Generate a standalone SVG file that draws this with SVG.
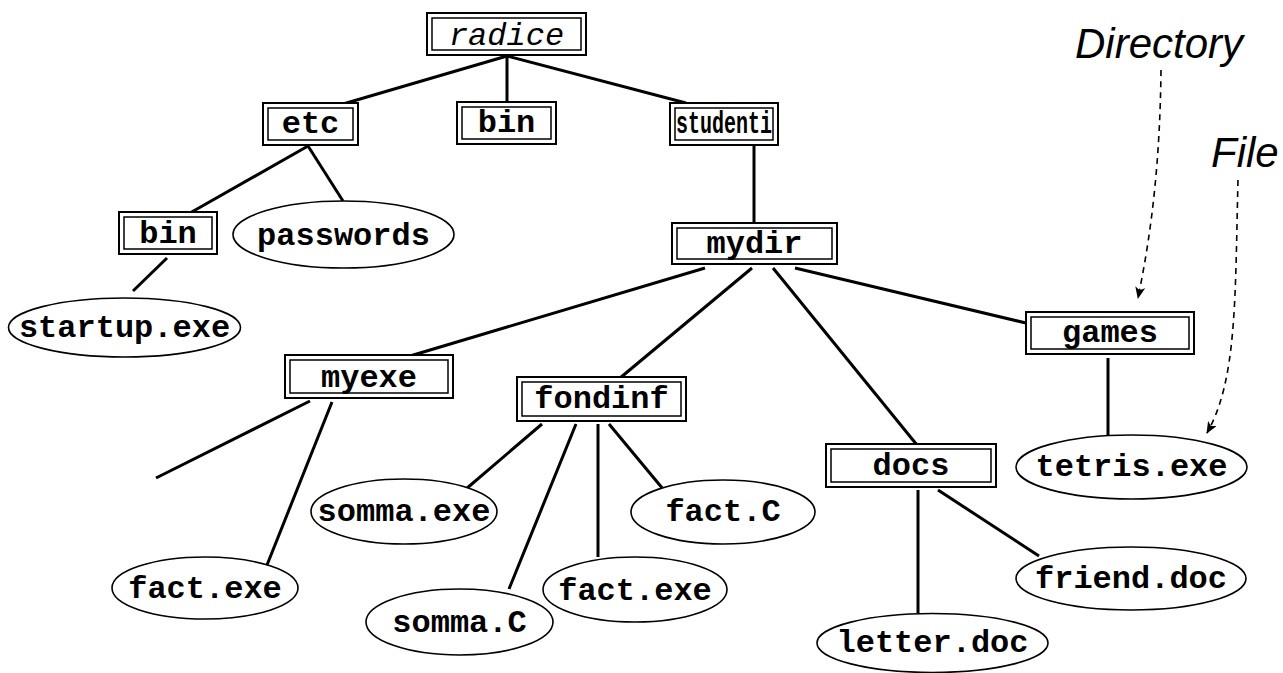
<svg xmlns="http://www.w3.org/2000/svg" width="1283" height="673" viewBox="0 0 1283 673">
<defs>
<style>
.o{fill:#fff;stroke:#000;stroke-width:2}
.i{fill:none;stroke:#000;stroke-width:1.5}
.e{fill:#fff;stroke:#000;stroke-width:1.6}
.t{font-family:"Liberation Mono","DejaVu Sans Mono",monospace;font-weight:bold;font-size:32px;text-anchor:middle;fill:#000}
.ti{font-family:"Liberation Mono","DejaVu Sans Mono",monospace;font-style:italic;font-size:32px;text-anchor:middle;fill:#000}
.lab{font-family:"Liberation Sans",Arial,sans-serif;font-style:italic;font-size:42px;fill:#000}
.c line{stroke:#000;stroke-width:3;stroke-linecap:butt}
.d{fill:none;stroke:#000;stroke-width:1.6;stroke-dasharray:6 5}
</style>
<marker id="ah" viewBox="0 0 12 10" refX="11" refY="5" markerWidth="12" markerHeight="10" markerUnits="userSpaceOnUse" orient="auto">
<path d="M0,0 L12,5 L0,10 L3,5 Z" fill="#000"/>
</marker>
</defs>
<rect width="1283" height="673" fill="#fff"/>
<g class="c" id="connectors">
<line x1="507" y1="56" x2="343" y2="104"/>
<line x1="507" y1="56" x2="507" y2="102"/>
<line x1="507" y1="56" x2="686" y2="103"/>
<line x1="308" y1="146" x2="190" y2="213"/>
<line x1="308" y1="146" x2="343" y2="201"/>
<line x1="167" y1="258" x2="133" y2="291"/>
<line x1="754" y1="146" x2="754" y2="223"/>
<line x1="705" y1="268" x2="410" y2="356"/>
<line x1="752" y1="268" x2="620" y2="378"/>
<line x1="773" y1="268" x2="917" y2="445"/>
<line x1="795" y1="268" x2="1026" y2="323"/>
<line x1="310" y1="401" x2="156" y2="478"/>
<line x1="332" y1="402" x2="267" y2="565"/>
<line x1="542" y1="424" x2="466" y2="489"/>
<line x1="576" y1="424" x2="509" y2="589"/>
<line x1="598" y1="424" x2="598" y2="557"/>
<line x1="609" y1="424" x2="663" y2="489"/>
<line x1="1108" y1="358" x2="1108" y2="435"/>
<line x1="918" y1="490" x2="918" y2="613"/>
<line x1="938" y1="490" x2="1039" y2="556"/>
</g>
<g id="legend-arrows">
<path class="d" d="M1161,70 C1160,160 1152,230 1138,298" marker-end="url(#ah)"/>
<path class="d" d="M1238,180 C1235,300 1237,380 1207,433" marker-end="url(#ah)"/>
</g>
<g id="radice"><rect class="o" x="427" y="13" width="159" height="42"/><rect class="i" x="432" y="18" width="149" height="32"/><text class="ti" x="506.5" y="45">radice</text></g>
<g id="etc"><rect class="o" x="263" y="103" width="95" height="42"/><rect class="i" x="268" y="108" width="85" height="32"/><text class="t" x="310.5" y="133">etc</text></g>
<g id="bin-top"><rect class="o" x="457" y="102" width="99" height="42"/><rect class="i" x="462" y="107" width="89" height="32"/><text class="t" x="506.5" y="132">bin</text></g>
<g id="studenti"><rect class="o" x="670" y="103" width="108" height="42"/><rect class="i" x="675" y="108" width="98" height="32"/><text class="t" x="724" y="133" textLength="96" lengthAdjust="spacingAndGlyphs">studenti</text></g>
<g id="mydir"><rect class="o" x="672" y="223" width="165" height="41"/><rect class="i" x="677" y="228" width="155" height="31"/><text class="t" x="754.5" y="253">mydir</text></g>
<g id="bin-etc"><rect class="o" x="119" y="212" width="98" height="42"/><rect class="i" x="124" y="217" width="88" height="32"/><text class="t" x="168" y="243">bin</text></g>
<g id="myexe"><rect class="o" x="285" y="355" width="168" height="43"/><rect class="i" x="290" y="360" width="158" height="33"/><text class="t" x="369" y="387">myexe</text></g>
<g id="fondinf"><rect class="o" x="517" y="377" width="169" height="44"/><rect class="i" x="522" y="382" width="159" height="34"/><text class="t" x="601.5" y="408">fondinf</text></g>
<g id="games"><rect class="o" x="1026" y="312" width="168" height="42"/><rect class="i" x="1031" y="317" width="158" height="32"/><text class="t" x="1110" y="342">games</text></g>
<g id="docs"><rect class="o" x="826" y="444" width="170" height="43"/><rect class="i" x="831" y="449" width="160" height="33"/><text class="t" x="911" y="475">docs</text></g>
<g id="passwords"><ellipse class="e" cx="343.5" cy="234.5" rx="110.5" ry="33.5"/><text class="t" x="343.5" y="245">passwords</text></g>
<g id="startup-exe"><ellipse class="e" cx="124.5" cy="327.5" rx="116" ry="29.5"/><text class="t" x="124.5" y="337">startup.exe</text></g>
<g id="fact-exe-1"><ellipse class="e" cx="205" cy="588" rx="93" ry="31"/><text class="t" x="205" y="598">fact.exe</text></g>
<g id="somma-exe"><ellipse class="e" cx="404" cy="511.5" rx="93" ry="32.5"/><text class="t" x="404" y="521">somma.exe</text></g>
<g id="somma-c"><ellipse class="e" cx="459.5" cy="622" rx="93.5" ry="33"/><text class="t" x="459.5" y="632">somma.C</text></g>
<g id="fact-exe-2"><ellipse class="e" cx="635" cy="589.5" rx="92" ry="32.5"/><text class="t" x="635" y="600">fact.exe</text></g>
<g id="fact-c"><ellipse class="e" cx="723" cy="512" rx="92" ry="32"/><text class="t" x="723" y="521">fact.C</text></g>
<g id="tetris-exe"><ellipse class="e" cx="1131.5" cy="467" rx="115.5" ry="32"/><text class="t" x="1131.5" y="476">tetris.exe</text></g>
<g id="friend-doc"><ellipse class="e" cx="1131" cy="578.5" rx="115" ry="31.5"/><text class="t" x="1131" y="588">friend.doc</text></g>
<g id="letter-doc"><ellipse class="e" cx="932.5" cy="643" rx="115.5" ry="29.5"/><text class="t" x="932.5" y="652">letter.doc</text></g>
<g id="labels"><text class="lab" x="1075" y="58">Directory</text><text class="lab" x="1211" y="167">File</text></g>
</svg>
